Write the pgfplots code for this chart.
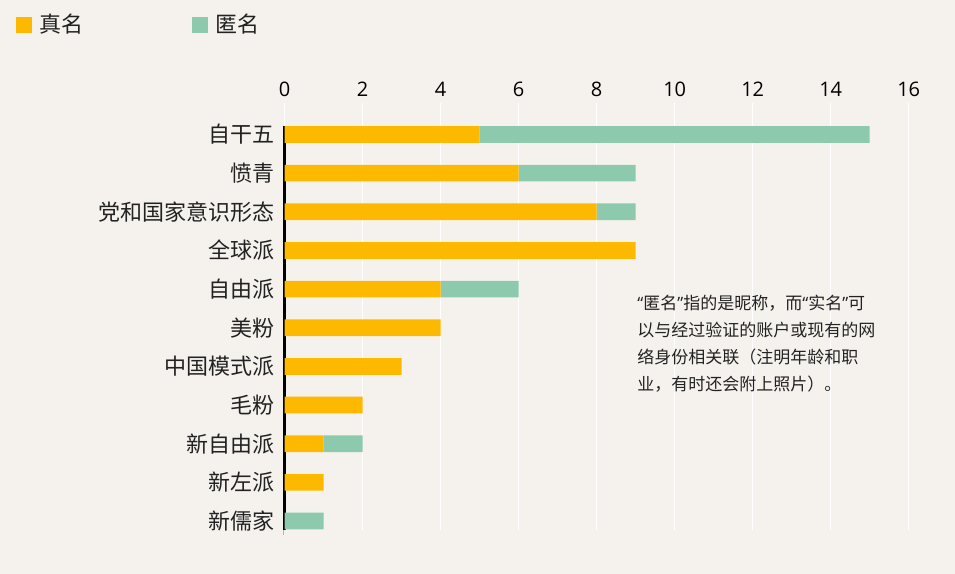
\documentclass[border=0pt]{standalone}
\usepackage{fontspec}
\setmainfont{Open Sans}
\newfontfamily\cjk{Noto Sans CJK SC}
\usepackage{pgfplots}
\pgfplotsset{compat=1.18}
\definecolor{bg}{HTML}{F5F2EE}
\definecolor{yel}{HTML}{FDB900}
\definecolor{grn}{HTML}{8DCAAD}
\definecolor{txt}{HTML}{222222}
\begin{document}
\begin{tikzpicture}
\useasboundingbox[fill=bg] (0,0) rectangle (477.5pt,287pt);
\begin{axis}[
  at={(142.35pt,22.25pt)}, anchor=south west,
  scale only axis, width=312pt, height=213.25pt, clip=false,
  xbar stacked, bar width=8.35pt,
  xmin=0, xmax=16, ymin=-0.815, ymax=10.22, y dir=reverse,
  axis x line*=top, axis y line*=left,
  axis line style={draw=none,-},
  xtick={0,2,...,16}, ytick={0,...,10},
  yticklabels={自干五,愤青,党和国家意识形态,全球派,自由派,美粉,中国模式派,毛粉,新自由派,新左派,新儒家},
  major tick length=0pt,
  xmajorgrids, grid style={white, line width=0.6pt},
  /pgf/number format/assume math mode=true,
  xticklabel style={font=\fontsize{10}{10}\selectfont, inner sep=0pt, anchor=south, yshift=3pt, text=black},
  yticklabel style={font=\cjk\fontsize{11}{11}\selectfont, inner sep=0pt, xshift=-4.8pt, text=txt},
  legend style={at={(axis description cs:-0.4306,1.1829)}, anchor=west, draw=none, fill=none,
    inner sep=0pt, outer sep=0pt, legend columns=2,
    nodes={inner sep=0pt, font=\cjk\fontsize{11}{11}\selectfont, text=txt},
    /tikz/every odd column/.append style={column sep=4pt},
    /tikz/every even column/.append style={column sep=54pt}},
  legend image code/.code={\fill[#1] (0pt,-4pt) rectangle (8pt,4pt);},
]
\addplot[fill=yel, draw=none] coordinates {(5,0) (6,1) (8,2) (9,3) (4,4) (4,5) (3,6) (2,7) (1,8) (1,9) (0,10)};
\addplot[fill=grn, draw=none] coordinates {(10,0) (3,1) (1,2) (0,3) (2,4) (0,5) (0,6) (0,7) (1,8) (0,9) (1,10)};
\legend{真名,匿名}
\draw[black, line width=1.5pt] (axis cs:0,-0.22) -- (axis cs:0,10.22);
\draw[yel, line width=0.8pt] (axis cs:-0.03,10.22) -- (axis cs:-0.03,10.37);
\end{axis}
\node[anchor=north west, inner sep=0pt, align=left, text=txt,
  font=\cjk\fontsize{8.5}{13.5}\selectfont] at (318.5pt,139.5pt)
  {{\rmfamily“}匿名{\rmfamily”}指的是昵称，而{\rmfamily“}实名{\rmfamily”}可\\以与经过验证的账户或现有的网\\络身份相关联（注明年龄和职\\业，有时还会附上照片）。};
\end{tikzpicture}
\end{document}
